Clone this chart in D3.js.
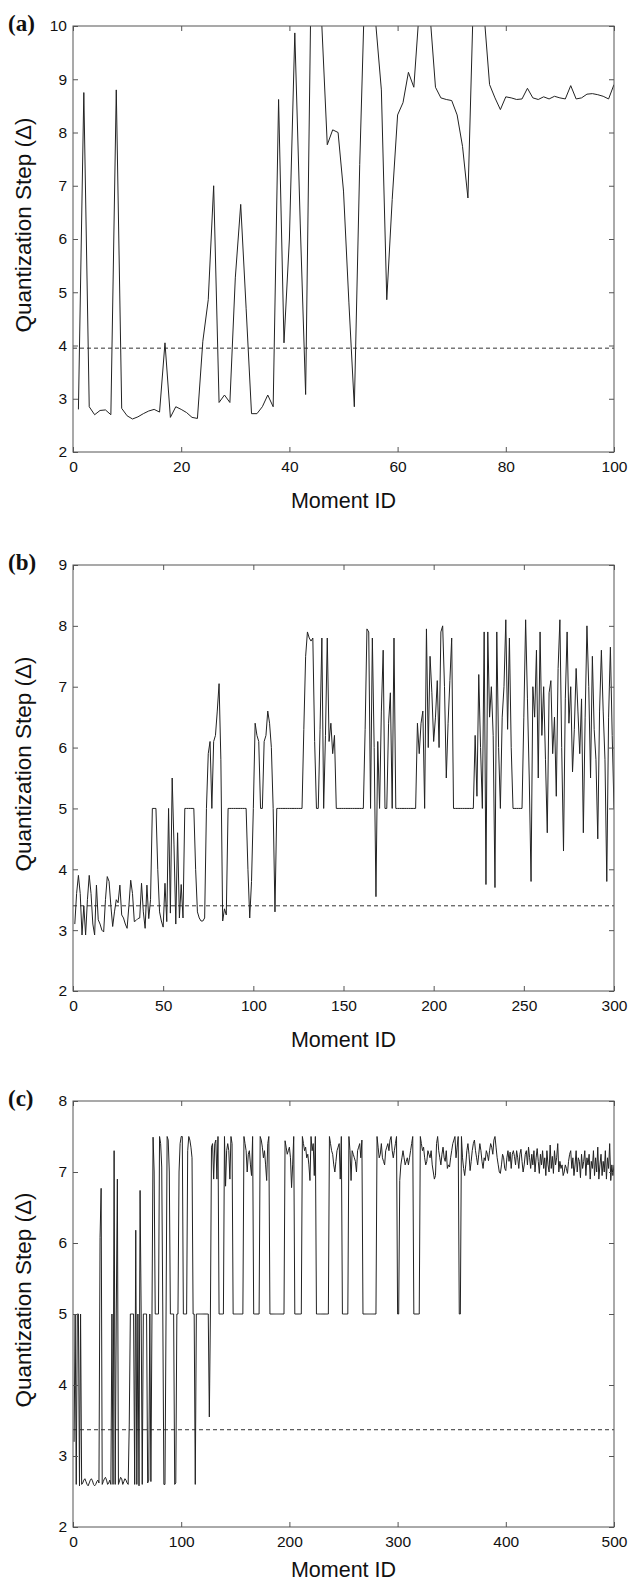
<!DOCTYPE html>
<html>
<head>
<meta charset="utf-8">
<script src="https://cdn.jsdelivr.net/npm/d3@7"></script>
<style>
body { margin: 0; background: #fff; }
</style>
</head>
<body>
<div id="chart-area"></div>
<script>
// quantization step per moment
const stepsA = [
    2.8, 8.75, 2.85, 2.7, 2.78, 2.79, 2.7, 8.8, 2.82, 2.68,
    2.62, 2.66, 2.72, 2.77, 2.8, 2.75, 4.05, 2.65, 2.85, 2.8,
    2.74, 2.65, 2.63, 4.08, 4.86, 7.0, 2.93, 3.07, 2.93, 5.27,
    6.65, 4.7, 2.72, 2.72, 2.85, 3.07, 2.85, 8.62, 4.05, 6.0,
    9.87, 6.3, 3.08, 10.8, 11.2, 10.0, 7.77, 8.05, 8.0, 6.9,
    4.8, 2.85, 7.4, 11.0, 11.5, 10.0, 8.8, 4.86, 6.74, 8.33,
    8.56, 9.13, 8.85, 10.3, 11.0, 10.2, 8.85, 8.65, 8.62, 8.6,
    8.33, 7.74, 6.77, 10.5, 11.0, 10.2, 8.9, 8.65, 8.43, 8.67,
    8.65, 8.62, 8.63, 8.83, 8.65, 8.62, 8.67, 8.63, 8.68, 8.65,
    8.63, 8.88, 8.63, 8.65, 8.72, 8.73, 8.71, 8.68, 8.63, 8.9
];
const stepsB = [
    3.1, 3.6, 3.9, 3.6, 2.92, 3.4, 2.92, 3.5, 3.9, 3.6,
    3.1, 2.92, 3.74, 3.17, 3.1, 3.0, 2.97, 3.5, 3.88, 3.8,
    3.4, 3.06, 3.3, 3.5, 3.45, 3.74, 3.25, 3.2, 3.1, 3.03,
    3.4, 3.82, 3.6, 3.14, 3.16, 3.19, 3.2, 3.77, 3.3, 3.03,
    3.74, 3.19, 3.5, 5.0, 5.0, 5.0, 4.0, 3.3, 3.15, 3.05,
    3.77, 3.14, 5.0, 3.28, 5.5, 4.4, 3.1, 4.6, 3.2, 3.75,
    3.2, 5.0, 5.0, 5.0, 5.0, 5.0, 5.0, 4.0, 3.3, 3.2,
    3.15, 3.15, 3.2, 5.0, 5.9, 6.1, 5.0, 6.1, 6.2, 6.6,
    7.05, 5.8, 3.15, 3.35, 3.25, 5.0, 5.0, 5.0, 5.0, 5.0,
    5.0, 5.0, 5.0, 5.0, 5.0, 5.0, 4.0, 3.2, 3.8, 5.0,
    6.4, 6.2, 6.1, 5.0, 5.0, 6.1, 6.2, 6.6, 6.4, 6.0,
    5.0, 3.3, 5.0, 5.0, 5.0, 5.0, 5.0, 5.0, 5.0, 5.0,
    5.0, 5.0, 5.0, 5.0, 5.0, 5.0, 5.0, 6.3, 7.5, 7.9,
    7.8, 7.75, 7.8, 6.1, 5.0, 5.0, 6.3, 7.8, 5.0, 6.2,
    7.8, 6.1, 6.4, 5.9, 6.2, 5.0, 5.0, 5.0, 5.0, 5.0,
    5.0, 5.0, 5.0, 5.0, 5.0, 5.0, 5.0, 5.0, 5.0, 5.0,
    5.0, 6.3, 7.95, 7.9, 5.0, 7.8, 6.0, 3.55, 6.1, 5.0,
    6.6, 7.6, 5.0, 5.0, 6.4, 6.9, 5.0, 7.8, 5.0, 5.0,
    5.0, 5.0, 5.0, 5.0, 5.0, 5.0, 5.0, 5.0, 5.0, 5.0,
    6.4, 5.9, 6.4, 6.6, 5.0, 7.95, 6.0, 7.5, 6.9, 6.1,
    6.5, 7.1, 6.0, 7.9, 8.0, 7.0, 5.5, 6.4, 7.1, 7.8,
    5.0, 5.0, 5.0, 5.0, 5.0, 5.0, 5.0, 5.0, 5.0, 5.0,
    5.0, 5.0, 6.2, 5.2, 7.2, 6.0, 5.0, 7.9, 3.75, 7.9,
    6.5, 7.0, 6.2, 3.7, 7.9, 6.0, 5.0, 6.5, 7.0, 8.1,
    6.3, 7.8, 6.0, 5.0, 5.0, 5.0, 5.0, 5.0, 5.0, 6.5,
    8.1, 6.8, 5.5, 3.8, 7.0, 6.5, 7.6, 5.5, 7.9, 6.2,
    7.0, 5.8, 4.6, 6.9, 7.1, 5.9, 6.5, 5.2, 7.3, 8.1,
    6.0, 4.3, 6.8, 7.9, 6.4, 7.0, 5.6, 6.3, 7.3, 6.6,
    5.9, 6.8, 4.6, 6.5, 8.0, 7.0, 5.5, 7.5, 6.3, 5.8,
    4.5, 6.6, 7.6, 6.6, 5.8, 3.8, 6.5, 7.65, 6.2, 5.0
];
const stepsC = [
    3.2, 5.0, 2.6, 5.0, 5.0, 2.58, 5.0, 2.6, 2.62, 2.66,
    2.68, 2.64, 2.6, 2.58, 2.62, 2.66, 2.68, 2.65, 2.6, 2.58,
    2.6, 2.64, 2.66, 2.62, 6.08, 6.77, 2.6, 2.64, 2.68, 2.7,
    2.66, 2.6, 2.62, 2.66, 2.6, 5.0, 2.6, 7.3, 2.6, 5.0,
    6.9, 2.6, 2.65, 2.7, 2.68, 2.6, 2.64, 2.68, 2.66, 2.62,
    2.6, 3.45, 5.0, 5.0, 5.0, 5.0, 2.6, 6.18, 2.6, 5.0,
    2.58, 6.74, 5.0, 2.6, 5.0, 5.0, 5.0, 5.0, 2.62, 2.66,
    5.0, 2.64, 5.0, 7.49, 7.0, 5.0, 5.0, 5.0, 5.0, 7.5,
    7.4, 7.07, 5.0, 2.6, 2.6, 5.0, 7.5, 7.45, 7.0, 5.0,
    5.0, 5.0, 5.0, 2.6, 2.62, 5.0, 5.0, 7.0, 7.4, 7.5,
    7.5, 5.0, 5.0, 5.0, 5.0, 7.3, 7.5, 7.45, 7.35, 7.2,
    5.0, 5.0, 2.6, 5.0, 5.0, 5.0, 5.0, 5.0, 5.0, 5.0,
    5.0, 5.0, 5.0, 5.0, 5.0, 3.55, 5.0, 7.35, 7.4, 6.9,
    7.4, 7.45, 6.9, 7.5, 5.0, 5.0, 5.0, 5.0, 5.0, 7.5,
    6.8, 7.3, 7.4, 7.3, 6.9, 7.5, 7.4, 5.0, 5.0, 5.0,
    5.0, 5.0, 5.0, 5.0, 5.0, 5.0, 5.0, 7.5, 7.4, 7.3,
    7.0, 7.25, 7.3, 7.1, 6.95, 7.5, 5.0, 5.0, 5.0, 5.0,
    5.0, 5.0, 7.5, 7.45, 7.35, 7.2, 7.3, 7.1, 6.88, 7.4,
    7.5, 5.0, 5.0, 5.0, 5.0, 5.0, 5.0, 5.0, 5.0, 5.0,
    5.0, 5.0, 5.0, 5.0, 5.0, 7.44, 7.35, 7.25, 7.3, 7.35,
    7.2, 6.78, 7.1, 7.5, 5.0, 5.0, 5.0, 5.0, 5.0, 5.0,
    5.0, 7.5, 7.4, 7.3, 7.35, 7.2, 7.25, 7.1, 6.88, 7.5,
    7.3, 7.4, 6.95, 7.5, 5.0, 5.0, 5.0, 5.0, 5.0, 5.0,
    5.0, 5.0, 5.0, 5.0, 5.0, 5.0, 7.5, 7.4, 7.3, 7.25,
    7.1, 7.0, 7.15, 7.3, 7.35, 7.4, 6.9, 7.5, 5.0, 5.0,
    5.0, 5.0, 5.0, 5.0, 7.5, 7.3, 6.88, 7.3, 7.25, 7.2,
    7.15, 7.0, 7.3, 7.35, 7.4, 7.2, 7.45, 5.0, 5.0, 5.0,
    5.0, 5.0, 5.0, 5.0, 5.0, 5.0, 5.0, 5.0, 5.0, 5.0,
    7.5, 7.35, 7.2, 7.25, 7.4, 7.2, 7.15, 7.1, 7.3, 7.35,
    7.4, 7.3, 7.45, 7.5, 7.3, 7.2, 7.3, 7.4, 7.5, 5.0,
    5.0, 6.88, 7.1, 7.2, 7.3, 7.2, 7.1, 7.15, 7.2, 7.1,
    7.2, 7.3, 7.4, 7.5, 5.0, 5.0, 5.0, 5.0, 5.0, 5.0,
    7.5, 7.4, 7.3, 7.35, 7.2, 7.1, 7.15, 7.3, 7.25, 7.2,
    7.3, 7.1, 7.0, 6.9, 6.95, 7.4, 7.5, 7.3, 7.2, 7.1,
    7.25, 7.35, 7.2, 7.15, 7.3, 7.05, 7.1, 7.07, 7.2, 7.3,
    7.4, 7.45, 7.5, 7.2, 7.35, 7.5, 5.0, 5.0, 7.5, 7.2,
    7.05, 6.95, 7.1, 7.3, 7.4, 7.25, 7.02, 7.15, 7.3, 7.4,
    7.45, 7.3, 7.2, 7.1, 7.25, 7.4, 7.3, 7.15, 7.05, 7.2,
    7.16, 7.3, 7.25, 7.16, 7.3, 7.4, 7.35, 7.25, 7.45, 7.5,
    7.35, 7.2, 7.1, 7.0, 6.98, 7.1, 7.25, 7.2, 7.05, 7.02,
    7.2, 7.3, 7.15, 7.28, 7.05, 7.25, 7.3, 7.22, 7.1, 7.3,
    7.2, 7.05, 7.25, 7.32, 7.15, 7.0, 7.1, 7.25, 7.3, 7.1,
    7.35, 7.2, 7.05, 7.25, 7.1, 7.3, 7.0, 7.2, 7.33, 7.15,
    6.98, 7.25, 7.1, 7.3, 7.05, 7.2, 6.95, 7.3, 7.1, 7.0,
    7.38, 7.05, 7.22, 6.98, 7.3, 7.1, 7.2, 7.4, 7.0, 7.15,
    7.05, 7.1, 6.95, 7.0, 7.1, 7.05, 6.98, 7.15, 7.25, 7.3,
    7.05, 7.2, 6.95, 7.1, 7.3, 7.0, 7.2, 7.15, 6.92, 7.25,
    7.05, 7.15, 7.3, 6.95, 7.2, 7.1, 7.25, 6.9, 7.15, 7.05,
    7.3, 6.95, 7.2, 7.0, 7.35, 6.9, 7.1, 7.25, 6.95, 7.15,
    7.0, 7.3, 6.9, 7.2, 7.05, 7.4, 6.88, 7.1, 6.95, 7.1
];

// dashed reference levels
const thresholdA = 3.95;
const thresholdB = 3.4;
const thresholdC = 3.37;

// tick labels
const xTicksA = [0, 20, 40, 60, 80, 100];
const xTicksB = [0, 50, 100, 150, 200, 250, 300];
const xTicksC = [0, 100, 200, 300, 400, 500];
const yTicksA = [2, 3, 4, 5, 6, 7, 8, 9, 10];
const yTicksB = [2, 3, 4, 5, 6, 7, 8, 9];
const yTicksC = [2, 3, 4, 5, 6, 7, 8];

const panelLabels = ["(a)", "(b)", "(c)"];
const xTitle = "Moment ID";
const yTitle = "Quantization Step (\u0394)";

const plotLeft = 73, plotWidth = 541, plotHeight = 426;
const panelTops = [26, 565, 1101];
const xTitleGaps = [56, 56, 50];
const axisColor = "#555";
const sans = "'Liberation Sans', Arial, sans-serif";

const svg = d3.select("#chart-area").append("svg")
    .attr("width", 630)
    .attr("height", 1583)
    .style("background", "#fff");

const panels = [
    { values: stepsA, threshold: thresholdA, xTicks: xTicksA, yTicks: yTicksA },
    { values: stepsB, threshold: thresholdB, xTicks: xTicksB, yTicks: yTicksB },
    { values: stepsC, threshold: thresholdC, xTicks: xTicksC, yTicks: yTicksC }
];

panels.forEach((p, i) => drawPanel(p, i));

function drawPanel(p, idx) {
    const top = panelTops[idx];
    const g = svg.append("g")
        .attr("transform", `translate(${plotLeft}, ${top})`);

    const x = d3.scaleLinear()
        .domain(d3.extent(p.xTicks))
        .range([0, plotWidth]);
    const y = d3.scaleLinear()
        .domain(d3.extent(p.yTicks))
        .range([plotHeight, 0]);

    g.append("clipPath")
        .attr("id", `clip-${idx}`)
        .append("rect")
        .attr("width", plotWidth)
        .attr("height", plotHeight);

    // dashed reference line
    g.append("line")
        .attr("x1", 0)
        .attr("x2", plotWidth)
        .attr("y1", y(p.threshold))
        .attr("y2", y(p.threshold))
        .attr("stroke", "#333")
        .attr("stroke-width", 1)
        .attr("stroke-dasharray", "4,3");

    const line = d3.line()
        .x((d, i) => x(i + 1))
        .y(d => y(d));

    g.append("path")
        .datum(p.values)
        .attr("clip-path", `url(#clip-${idx})`)
        .attr("d", line)
        .attr("fill", "none")
        .attr("stroke", "#222")
        .attr("stroke-width", 1)
        .attr("stroke-linejoin", "miter");

    const fmt = d3.format("d");

    // axes, ticks pointing inward on all four sides
    const bottom = g.append("g")
        .attr("transform", `translate(0, ${plotHeight})`)
        .call(d3.axisBottom(x).tickValues(p.xTicks).tickFormat(fmt).tickSize(-5).tickPadding(9).tickSizeOuter(0));
    const topAxis = g.append("g")
        .call(d3.axisTop(x).tickValues(p.xTicks).tickSize(-5).tickFormat("").tickSizeOuter(0));
    const left = g.append("g")
        .call(d3.axisLeft(y).tickValues(p.yTicks).tickFormat(fmt).tickSize(-5).tickPadding(6).tickSizeOuter(0));
    const right = g.append("g")
        .attr("transform", `translate(${plotWidth}, 0)`)
        .call(d3.axisRight(y).tickValues(p.yTicks).tickSize(-5).tickFormat("").tickSizeOuter(0));

    [bottom, topAxis, left, right].forEach(a => {
        a.select(".domain").remove();
        a.selectAll(".tick line").attr("stroke", axisColor);
        a.selectAll(".tick text")
            .attr("fill", "#111")
            .style("font-family", sans)
            .style("font-size", "15.5px");
    });

    g.append("rect")
        .attr("width", plotWidth)
        .attr("height", plotHeight)
        .attr("fill", "none")
        .attr("stroke", axisColor)
        .attr("stroke-width", 1);

    g.append("text")
        .attr("x", plotWidth / 2)
        .attr("y", plotHeight + xTitleGaps[idx])
        .attr("text-anchor", "middle")
        .attr("fill", "#111")
        .style("font-family", sans)
        .style("font-size", "21.5px")
        .text(xTitle);

    g.append("text")
        .attr("transform", `translate(${31 - plotLeft}, ${plotHeight / 2 - 14}) rotate(-90)`)
        .attr("text-anchor", "middle")
        .attr("fill", "#111")
        .style("font-family", sans)
        .style("font-size", "22.5px")
        .text(yTitle);

    svg.append("text")
        .attr("x", 8)
        .attr("y", top + 5)
        .attr("fill", "#111")
        .style("font-family", "'Liberation Serif', 'Times New Roman', serif")
        .style("font-weight", "bold")
        .style("font-size", "23px")
        .text(panelLabels[idx]);
}
</script>
</body>
</html>
